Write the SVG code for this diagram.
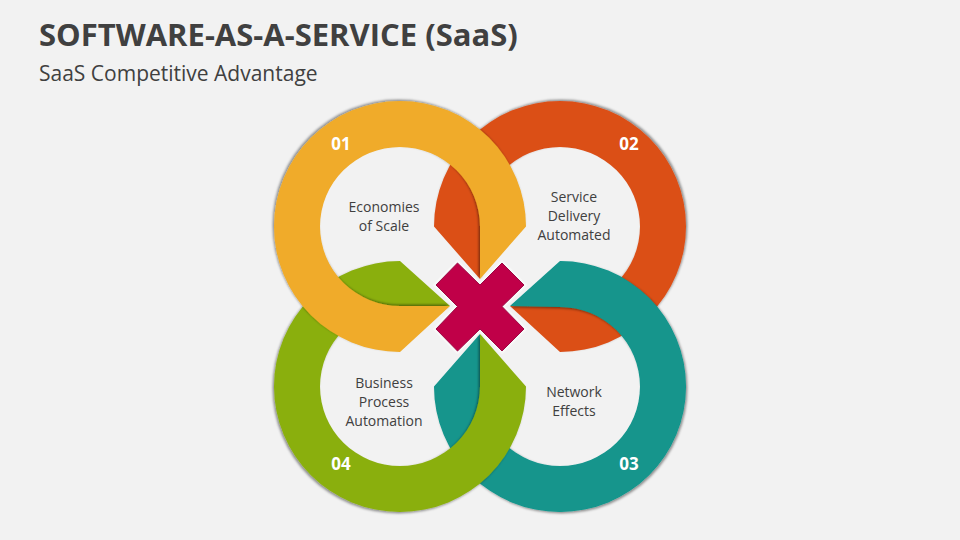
<svg xmlns="http://www.w3.org/2000/svg" width="960" height="540" viewBox="0 0 960 540">
<defs>
<style>
text{font-family:"Open Sans","Liberation Sans",sans-serif;text-anchor:middle;fill:#404040}
.title{font-size:31px;font-weight:700;text-anchor:start}
.sub{font-size:21px;text-anchor:start}
.lbl{font-size:14px}
.num{font-size:17px;font-weight:700;fill:#fff}
</style>
<filter id="s1" x="-10%" y="-10%" width="120%" height="120%"><feDropShadow dx="-1.4" dy="-1.4" stdDeviation="1.1" flood-color="#000" flood-opacity="0.42"/></filter>
<filter id="s2" x="-10%" y="-10%" width="120%" height="120%"><feDropShadow dx="1.4" dy="-1.4" stdDeviation="1.1" flood-color="#000" flood-opacity="0.42"/></filter>
<filter id="s3" x="-10%" y="-10%" width="120%" height="120%"><feDropShadow dx="1.4" dy="1.4" stdDeviation="1.1" flood-color="#000" flood-opacity="0.42"/></filter>
<filter id="s4" x="-10%" y="-10%" width="120%" height="120%"><feDropShadow dx="-1.4" dy="1.4" stdDeviation="1.1" flood-color="#000" flood-opacity="0.42"/></filter>
</defs>
<rect width="960" height="540" fill="#f2f2f2"/>
<text class="title" x="39" y="46">SOFTWARE-AS-A-SERVICE (SaaS)</text>
<text class="sub" x="39" y="81">SaaS Competitive Advantage</text>
<g id="connectors"></g>
<g id="node-02">
<path fill="#db4f19" filter="url(#s2)" d="M560 352A126 125.500 0 1 0 434 226.500L480 279L480 226.500A80 79.500 0 1 1 560 306L510 306Z"/>
<text class="num" x="629" y="150">02</text>
<text class="lbl" x="574" y="202">Service</text>
<text class="lbl" x="574" y="221">Delivery</text>
<text class="lbl" x="574" y="240">Automated</text>
</g>
<g id="node-03">
<path fill="#12958c" filter="url(#s3)" d="M560 261A126 125.500 0 1 1 434 386.500L480 334L480 386.500A80 79.500 0 1 0 560 307L510 306Z"/>
<text class="num" x="629" y="470">03</text>
<text class="lbl" x="574" y="397">Network</text>
<text class="lbl" x="574" y="416">Effects</text>
</g>
<g id="node-04">
<path fill="#8aaf10" filter="url(#s4)" d="M400 261A126 125.500 0 1 0 526 386.500L480 334L480 386.500A80 79.500 0 1 1 400 307L450 306Z"/>
<text class="num" x="341" y="470">04</text>
<text class="lbl" x="384" y="388">Business</text>
<text class="lbl" x="384" y="407">Process</text>
<text class="lbl" x="384" y="426">Automation</text>
</g>
<g id="node-01">
<path fill="#f0ab29" filter="url(#s1)" d="M400 352A126 125.500 0 1 1 526 226.500L480 279L480 226.500A80 79.500 0 1 0 400 306L450 306Z"/>
<text class="num" x="341" y="150">01</text>
<text class="lbl" x="384" y="212">Economies</text>
<text class="lbl" x="384" y="231">of Scale</text>
</g>
<g id="node-x">
<path fill="#c00048" stroke="#f8f8f8" stroke-width="5" d="M457.500 263L480 285L502 263L524 285L502 306.500L524 329L502 351L480 329L457.500 351L436 329L457.500 306.500L436 285Z"/>
<path fill="#c00048" stroke="#9c0a44" stroke-width="1" d="M457.500 263L480 285L502 263L524 285L502 306.500L524 329L502 351L480 329L457.500 351L436 329L457.500 306.500L436 285Z"/>
</g>
</svg>
